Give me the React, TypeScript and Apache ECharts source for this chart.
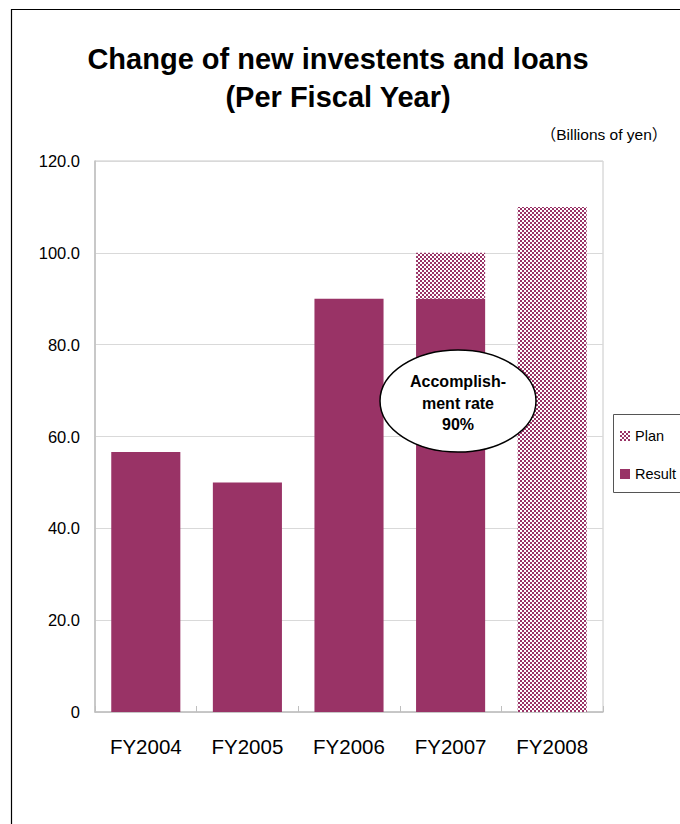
import React, { useEffect, useRef } from "react";
import * as echarts from "echarts";

const categories = ["FY2004", "FY2005", "FY2006", "FY2007", "FY2008"];
const resultValues = [56.6, 50.0, 90.0, 90.0, null];
const planTotals = [null, null, null, 100.0, 110.0];
const yTicks = { min: 0, max: 120, interval: 20 };
const titleText = "Change of new investents and loans\n(Per Fiscal Year)";
const unitText = "（Billions of yen）";
const noteText = "Accomplish-\nment rate\n90%";

const FONT = "'Liberation Sans', Arial, 'Noto Sans CJK JP', sans-serif";
const PLUM = "#993366";

function makePattern() {
  const c = document.createElement("canvas");
  c.width = 4;
  c.height = 4;
  const ctx = c.getContext("2d")!;
  ctx.fillStyle = "#ffffff";
  ctx.fillRect(0, 0, 4, 4);
  ctx.fillStyle = PLUM;
  ctx.fillRect(0, 0, 2, 2);
  ctx.fillRect(2, 2, 2, 2);
  return {
    image: c.toDataURL(),
    imageWidth: 4,
    imageHeight: 4,
    repeat: "repeat",
  };
}

export default function App() {
  const ref = useRef<HTMLDivElement>(null);
  useEffect(() => {
    if (!ref.current) return;
    const chart = echarts.init(ref.current, null, { renderer: "svg" });
    const planExtra = planTotals.map((p, i) =>
      p == null ? null : +(p - (resultValues[i] ?? 0)).toFixed(1)
    );
    const pattern = makePattern();
    chart.setOption({
      animation: false,
      backgroundColor: "#ffffff",
      textStyle: { fontFamily: FONT },
      title: {
        text: titleText,
        left: 333,
        top: 35,
        textAlign: "center",
        textStyle: {
          fontFamily: FONT,
          fontSize: 29,
          fontWeight: "bold",
          color: "#000",
          lineHeight: 38,
        },
      },
      legend: {
        orient: "vertical",
        left: 620,
        top: 428,
        padding: 0,
        data: ["Plan", "Result"],
        itemWidth: 10,
        itemHeight: 10,
        itemGap: 22,
        icon: "rect",
        textStyle: { fontFamily: FONT, fontSize: 14.5, color: "#000", lineHeight: 16 },
      },
      grid: {
        left: 95,
        top: 161,
        right: 77,
        bottom: 112,
        show: true,
        borderColor: "#c8c8c8",
        borderWidth: 1,
      },
      xAxis: {
        type: "category",
        data: categories,
        axisLine: { lineStyle: { color: "#bfbfbf", width: 1.5 } },
        axisTick: { show: true, inside: true, length: 6, lineStyle: { color: "#bfbfbf" } },
        axisLabel: { fontFamily: FONT, fontSize: 20.5, color: "#000", margin: 24 },
      },
      yAxis: {
        type: "value",
        min: yTicks.min,
        max: yTicks.max,
        interval: yTicks.interval,
        axisLine: { show: true, lineStyle: { color: "#bfbfbf", width: 1.5 } },
        axisTick: { show: false },
        splitLine: { lineStyle: { color: "#d9d9d9", width: 1 } },
        axisLabel: {
          fontFamily: FONT,
          fontSize: 16.5,
          color: "#000",
          margin: 15,
          formatter: (v: number) => (v === 0 ? "0" : v.toFixed(1)),
        },
      },
      series: [
        {
          name: "Result",
          type: "bar",
          stack: "total",
          barWidth: "68%",
          data: resultValues,
          itemStyle: { color: PLUM },
        },
        {
          name: "Plan",
          type: "bar",
          stack: "total",
          barWidth: "68%",
          data: planExtra,
          itemStyle: { color: pattern },
        },
      ],
      graphic: [
        {
          type: "rect",
          shape: { x: 11.5, y: 9.5, width: 800, height: 900 },
          style: { fill: "none", stroke: "#000", lineWidth: 1.2 },
          silent: true,
        },
        {
          type: "rect",
          shape: { x: 613.5, y: 414.5, width: 120, height: 78 },
          style: { fill: "none", stroke: "#555", lineWidth: 1 },
          silent: true,
        },
        {
          type: "text",
          x: 604,
          y: 134,
          style: {
            text: unitText,
            font: `15.5px ${FONT}`,
            fill: "#000",
            textAlign: "center",
            textVerticalAlign: "middle",
          },
        },
        {
          type: "ellipse",
          shape: { cx: 458, cy: 401, rx: 78, ry: 51 },
          style: { fill: "#fff", stroke: "#000", lineWidth: 1.5 },
          z: 100,
        },
        {
          type: "text",
          x: 458,
          y: 403,
          z: 101,
          style: {
            text: noteText,
            font: `bold 16px ${FONT}`,
            fill: "#000",
            textAlign: "center",
            textVerticalAlign: "middle",
            lineHeight: 21.5,
          },
        },
      ],
    });
    return () => chart.dispose();
  }, []);
  return (
    <div
      ref={ref}
      style={{ position: "fixed", left: 0, top: 0, width: 680, height: 824 }}
    />
  );
}
